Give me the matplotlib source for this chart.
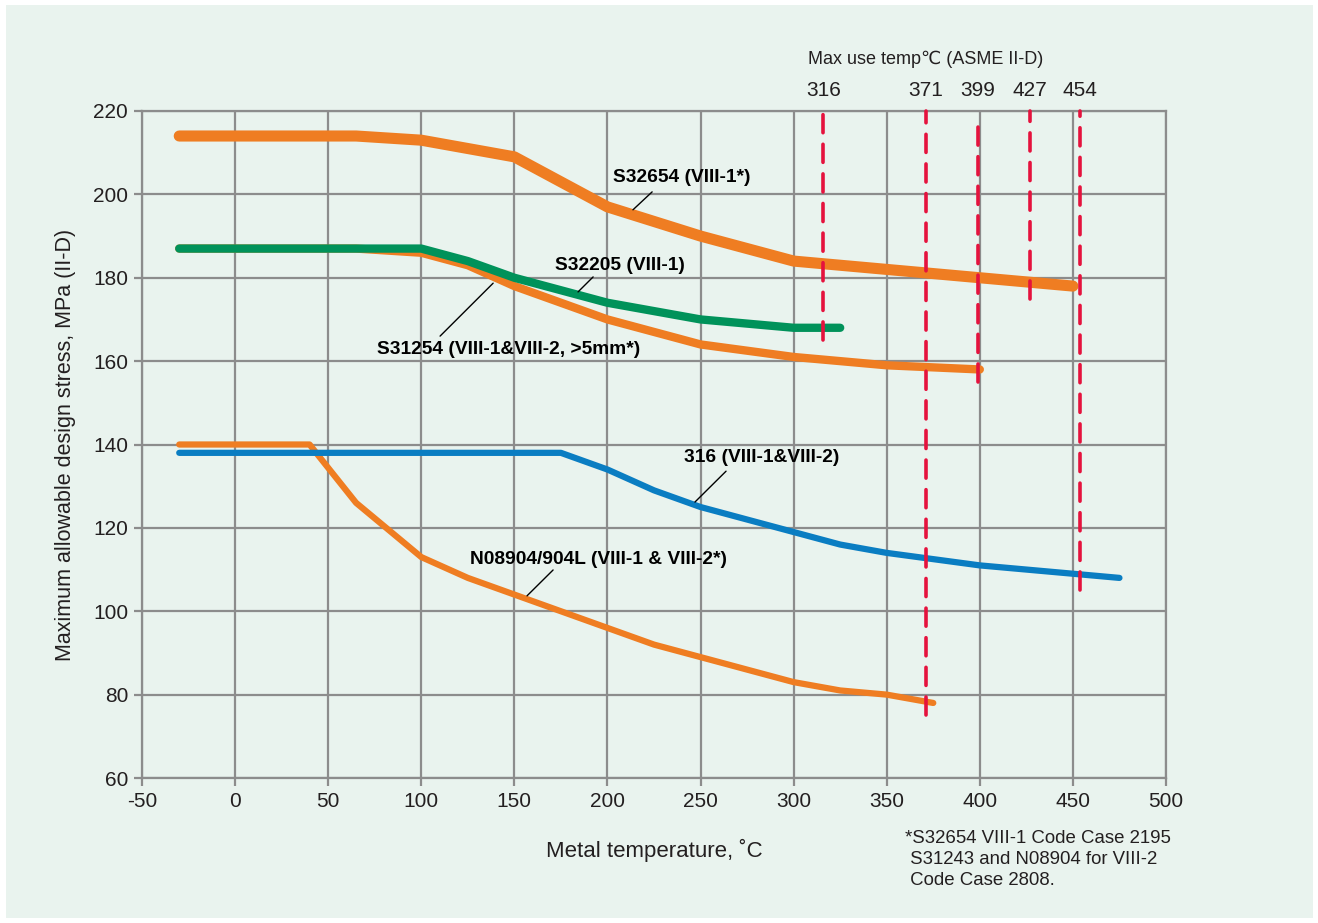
import matplotlib
matplotlib.use("Agg")
import matplotlib.pyplot as plt
import matplotlib.patches as mpatches

plt.rcParams['font.family'] = ['Liberation Sans', 'DejaVu Sans']
plt.rcParams['axes.unicode_minus'] = False

# ---------------------------------------------------------
# Data
# ---------------------------------------------------------
s32654_t = [-30, 65, 100, 150, 200, 250, 300, 325, 350, 375, 400, 425, 450]
s32654_s = [214, 214, 213, 209, 197, 190, 184, 183, 182, 181, 180, 179, 178]

s32205_t = [-30, 65, 100, 125, 150, 175, 200, 250, 300, 325]
s32205_s = [187, 187, 187, 184, 180, 177, 174, 170, 168, 168]

s31254_t = [-30, 65, 100, 125, 150, 175, 200, 250, 300, 350, 400]
s31254_s = [187, 187, 186, 183, 178, 174, 170, 164, 161, 159, 158]

ss316_t = [-30, 175, 200, 225, 250, 300, 325, 350, 400, 450, 475]
ss316_s = [138, 138, 134, 129, 125, 119, 116, 114, 111, 109, 108]

n08904_t = [-30, 40, 65, 100, 125, 150, 175, 200, 225, 250, 300, 325, 350, 375]
n08904_s = [140, 140, 126, 113, 108, 104, 100, 96, 92, 89, 83, 81, 80, 78]

max_temps = [316, 371, 399, 427, 454]
max_temp_bottoms = [165, 75, 155, 175, 105]
max_temp_tops = [220, 220, 218, 220, 220]

label_texts = ['S32654 (VIII-1*)', 'S32205 (VIII-1)', 'S31254 (VIII-1&VIII-2, >5mm*)',
               '316 (VIII-1&VIII-2)', 'N08904/904L (VIII-1 & VIII-2*)']
label_pos = [(203, 204), (172, 183), (76, 162.7), (241, 137), (126, 112.5)]
leader_from = [(224, 200.6), (192.3, 180.2), (110.1, 166.0), (263.7, 133.6), (170.8, 109.9)]
leader_to = [(213.7, 196.3), (184.2, 176.6), (138.6, 178.7), (247.0, 126.2), (156.8, 103.7)]

x_ticks = list(range(-50, 501, 50))
y_ticks = list(range(60, 221, 20))

BG = '#e9f3ee'
ORANGE = '#ef7d22'
GREEN = '#00925a'
BLUE = '#0a7dc2'
RED = '#e5123d'
GRID = '#8c8c8c'
TXT = '#231f20'

fig = plt.figure(figsize=(13.18, 9.23), dpi=100)
fig.patch.set_facecolor('white')
fig.patches.append(mpatches.Rectangle((6 / 1318, 1 - 918 / 923), 1307 / 1318, 913 / 923,
                                      transform=fig.transFigure, facecolor=BG,
                                      edgecolor='none', zorder=-10))

ax = fig.add_axes([142 / 1318, 1 - 778 / 923, 1024 / 1318, 667 / 923])
ax.set_facecolor(BG)
ax.set_xlim(-50, 500)
ax.set_ylim(60, 220)
ax.set_xticks(x_ticks)
ax.set_yticks(y_ticks)
ax.grid(True, color=GRID, lw=1.6, zorder=0)
for sp in ax.spines.values():
    sp.set_color(GRID)
    sp.set_linewidth(1.6)
ax.tick_params(direction='out', length=6, width=1.6, color=GRID,
               labelsize=15, labelcolor=TXT, pad=4)

# ---------------------------------------------------------
# Curves
# ---------------------------------------------------------
kw = dict(solid_capstyle='round', solid_joinstyle='round')
ax.plot(n08904_t, n08904_s, color=ORANGE, lw=4.5, zorder=3, **kw)
ax.plot(ss316_t, ss316_s, color=BLUE, lw=4.5, zorder=3, **kw)
ax.plot(s31254_t, s31254_s, color=ORANGE, lw=6, zorder=3, **kw)
ax.plot(s32205_t, s32205_s, color=GREEN, lw=6, zorder=4, **kw)
ax.plot(s32654_t, s32654_s, color=ORANGE, lw=8, zorder=3, **kw)

# Max use temperature markers
for t, lo, hi in zip(max_temps, max_temp_bottoms, max_temp_tops):
    ax.plot([t, t], [lo, hi], color=RED, lw=2.6, dashes=(5, 3.2),
            dash_capstyle='round', zorder=5, clip_on=False)
    ax.text(t, 224.8, str(t), ha='center', va='center', fontsize=15,
            color=TXT, clip_on=False)
ax.text(307.5, 232.3, 'Max use temp℃ (ASME II-D)', ha='left', va='center',
        fontsize=13, color=TXT, clip_on=False)

# Labels with leader lines
for txt, pos, p0, p1 in zip(label_texts, label_pos, leader_from, leader_to):
    ax.text(pos[0], pos[1], txt, ha='left', va='center', fontsize=13.8,
            fontweight='bold', color='black', zorder=6)
    ax.annotate('', xy=p1, xytext=p0,
                arrowprops=dict(arrowstyle='-', color='black', lw=1,
                                shrinkA=0, shrinkB=0), zorder=6)

ax.set_xlabel('Metal temperature, ˚C', fontsize=16, color=TXT, labelpad=20)
ax.set_ylabel('Maximum allowable design stress, MPa (II-D)', fontsize=15.5,
              color=TXT, labelpad=12)

fig.text(905 / 1318, 1 - 830 / 923,
         '*S32654 VIII-1 Code Case 2195\n S31243 and N08904 for VIII-2\n Code Case 2808.',
         ha='left', va='top', fontsize=13.4, color=TXT, linespacing=1.3)

plt.savefig('out.png', dpi=100, facecolor='white')
plt.close()
